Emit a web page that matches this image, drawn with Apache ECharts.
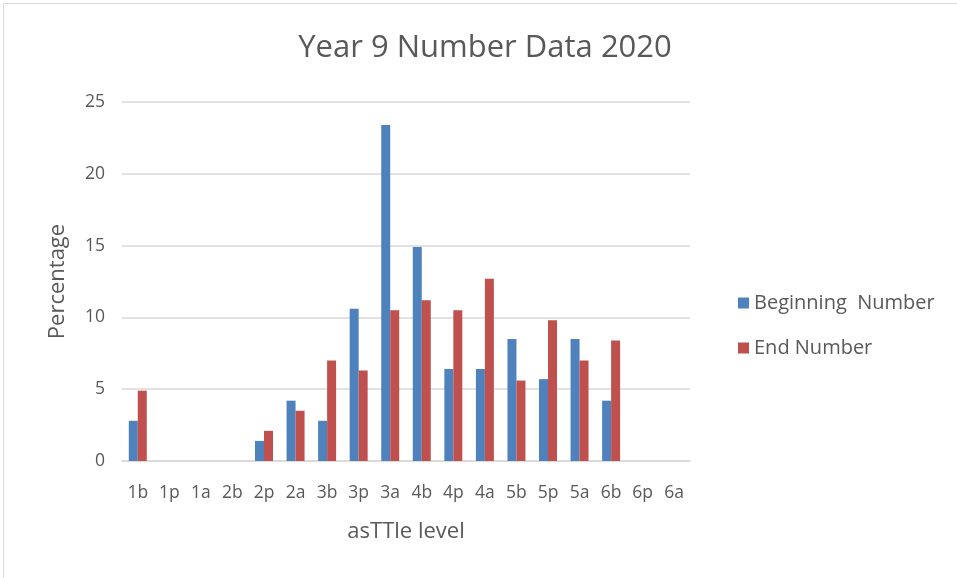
<!DOCTYPE html>
<html><head><meta charset="utf-8">
<script src="https://cdn.jsdelivr.net/npm/echarts@6/dist/echarts.min.js"></script>
<style>html,body{margin:0;padding:0;background:#fff}#c{width:957px;height:578px}</style>
</head><body><div id="c"></div>
<script>
const categories = ['1b','1p','1a','2b','2p','2a','3b','3p','3a','4b','4p','4a','5b','5p','5a','6b','6p','6a'];
const beginning = [2.8,0,0,0,1.4,4.2,2.8,10.6,23.4,14.9,6.4,6.4,8.5,5.7,8.5,4.2,0,0];
const endNumber = [4.9,0,0,0,2.1,3.5,7.0,6.3,10.5,11.2,10.5,12.7,5.6,9.8,7.0,8.4,0,0];
const yTicks = [0,5,10,15,20,25];
const FONT = '"Open Sans", sans-serif';
const chart = echarts.init(document.getElementById('c'), null, {renderer:'canvas'});
chart.setOption({
  animation:false,
  backgroundColor:'#fff',
  graphic:[{type:'rect',shape:{x:3.5,y:3.5,width:960,height:580},style:{fill:'none',stroke:'#d9d9d9',lineWidth:1},silent:true}],
  title:{text:'Year 9 Number Data 2020',left:480,top:28,textAlign:'center',
    textStyle:{fontFamily:FONT,fontWeight:'normal',fontSize:31,color:'#595959'}},
  legend:{orient:'vertical',left:733,top:288,itemWidth:11,itemHeight:11,itemGap:25,
    icon:'rect',textStyle:{fontFamily:FONT,fontSize:20,color:'#595959'},
    data:['Beginning  Number','End Number']},
  grid:{left:122,right:267,top:102,bottom:117},
  xAxis:{type:'category',data:categories,
    axisLine:{show:true,lineStyle:{color:'#d9d9d9',width:1.5}},axisTick:{show:false},
    axisLabel:{fontFamily:FONT,fontSize:17.5,color:'#595959',margin:23,interval:0},
    name:'asTTle level',nameLocation:'middle',nameGap:60,
    nameTextStyle:{fontFamily:FONT,fontSize:22,color:'#595959'}},
  yAxis:{type:'value',min:0,max:25,interval:5,
    axisLine:{show:false},axisTick:{show:false},
    splitLine:{lineStyle:{color:'#d9d9d9',width:1.5}},
    axisLabel:{fontFamily:FONT,fontSize:17.5,color:'#595959',margin:17,
      formatter:v=>yTicks.includes(v)?String(v):''},
    name:'Percentage',nameLocation:'middle',nameGap:53,nameRotate:90,
    nameTextStyle:{fontFamily:FONT,fontSize:22,color:'#595959'}},
  series:[
    {name:'Beginning  Number',type:'bar',data:beginning,barGap:'0%',barCategoryGap:'43%',
      itemStyle:{color:'#4F81BD'}},
    {name:'End Number',type:'bar',data:endNumber,barGap:'0%',barCategoryGap:'43%',
      itemStyle:{color:'#C0504D'}}
  ]
});
</script></body></html>
